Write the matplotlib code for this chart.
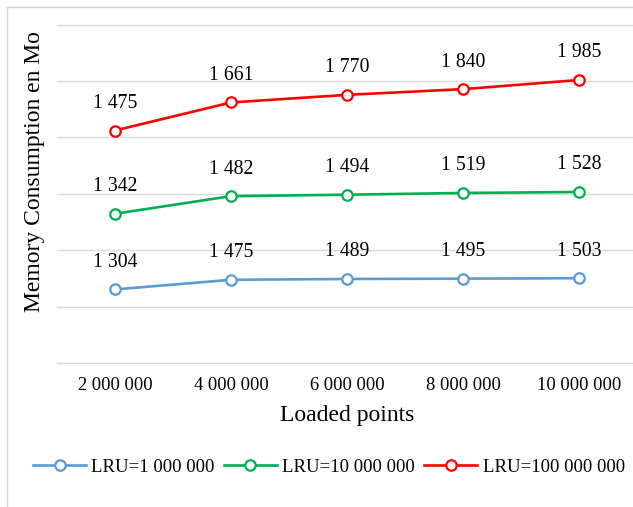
#!/usr/bin/env python3
import numpy as np
import matplotlib
matplotlib.use("Agg")
import matplotlib.pyplot as plt
from matplotlib.patches import Rectangle

plt.rcParams["font.family"] = ["Liberation Serif", "DejaVu Serif"]

loaded_points = ["2 000 000", "4 000 000", "6 000 000", "8 000 000", "10 000 000"]
series_names = ["LRU=1 000 000", "LRU=10 000 000", "LRU=100 000 000"]
lru_1m = [1304, 1475, 1489, 1495, 1503]
lru_10m = [1342, 1482, 1494, 1519, 1528]
lru_100m = [1475, 1661, 1770, 1840, 1985]
colors = ["#5B9BD5", "#00B050", "#FF0000"]


def fmt(v):
    return f"{v:,}".replace(",", " ")


def main():
    fig = plt.figure(figsize=(6.33, 5.07), dpi=100)
    W, H = 633, 507
    # chart border (only left and top visible in the crop)
    fig.patches.append(Rectangle((7 / W, -0.1), 1.2, 1 - 7 / H + 0.1,
                                 transform=fig.transFigure, fill=False,
                                 edgecolor="#D9D9D9", linewidth=1.0))

    ax = fig.add_axes([57 / W, 1 - 363 / H, 580 / W, 338.5 / H])
    x = np.arange(len(loaded_points))

    # stacked line chart: each series sits on top of the previous ones
    series = [lru_1m, lru_10m, lru_100m]
    stacked = np.cumsum(np.array(series), axis=0)

    for vals, tops, name, c in zip(series, stacked, series_names, colors):
        ax.plot(x, tops, color=c, linewidth=1.9, marker="o", markersize=7.5,
                markerfacecolor="white", markeredgecolor=c, markeredgewidth=1.6,
                label=name, zorder=3)
        for xi, yi, v in zip(x, tops, vals):
            ax.annotate(fmt(v), (xi, yi), xytext=(0, 19.5), textcoords="offset points",
                        ha="center", va="center", fontsize=14.2, color="#000000")

    ax.set_xlim(-0.5, 4.5)
    ax.set_ylim(0, 6000)
    ax.set_yticks(np.arange(0, 6001, 1000))
    ax.set_yticklabels([])
    ax.set_xticks(x)
    ax.set_xticklabels(loaded_points, fontsize=13.3)
    ax.tick_params(axis="y", length=0)
    ax.tick_params(axis="x", length=0, pad=10)
    ax.grid(axis="y", color="#D9D9D9", linewidth=1.0)
    for gl in ax.get_ygridlines():
        gl.set_clip_on(False)
    ax.set_axisbelow(True)
    for s in ax.spines.values():
        s.set_visible(False)

    fig.text(347 / W, 1 - 416 / H, "Loaded points", ha="center", va="center", fontsize=17)
    fig.text(35 / W, 1 - 171.5 / H, "Memory Consumption en Mo", ha="center", va="center",
             rotation=90, fontsize=17)

    fig.legend(loc="center", bbox_to_anchor=(329 / W, 1 - 467 / H), ncol=3, frameon=False,
               fontsize=13.5, handlelength=2.8, handletextpad=0.3, columnspacing=0.5,
               borderaxespad=0)

    plt.savefig("out.png", dpi=100)
    plt.close(fig)


main()
